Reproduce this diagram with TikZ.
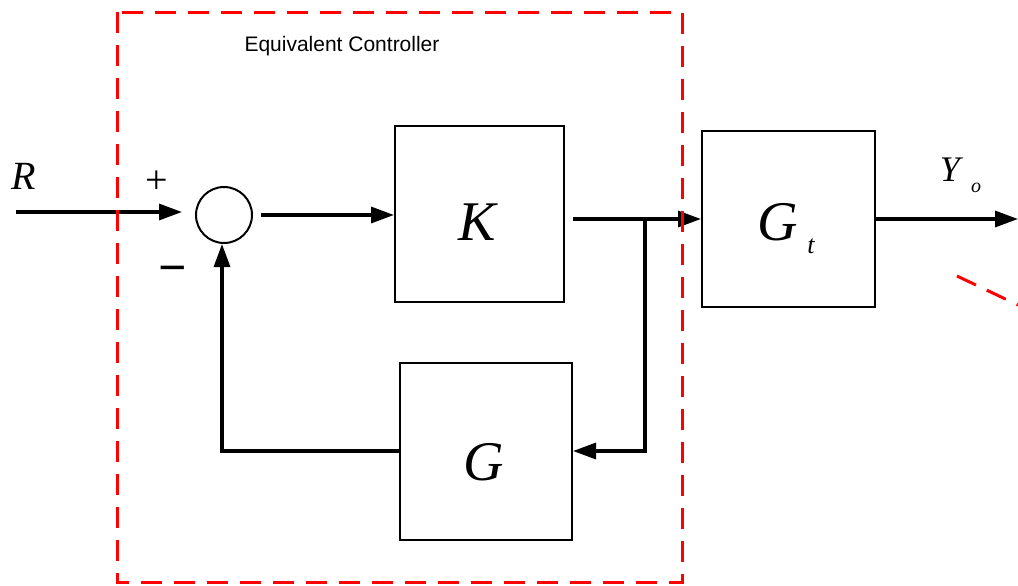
\documentclass[tikz,border=0pt]{standalone}
\usepackage{fontspec}
\setmainfont{Liberation Serif}
\newfontfamily\arialf{Liberation Sans}
\usetikzlibrary{arrows.meta}
\begin{document}
\begin{tikzpicture}[x=0.5pt,y=-0.5pt,
  blk/.style={draw,line width=1pt,inner sep=0pt},
  sig/.style={line width=1.6pt,-{Triangle[length=11.5pt,width=8pt]}},
  reddash/.style={draw=red,line width=1.5pt,dash pattern=on 10.5pt off 6pt},
  lbl/.style={inner sep=0pt,font=\itshape}]
\useasboundingbox (0,0) rectangle (1018,585);
% blocks
\node[blk,minimum width=84.5pt,minimum height=88pt] (K) at (479.5,214) {};
\node[blk,minimum width=86.5pt,minimum height=88pt] (Gt) at (788.5,219) {};
\node[blk,minimum width=86pt,minimum height=88.5pt] (G) at (486,451.5) {};
\node[draw,circle,line width=1pt,minimum size=28pt,inner sep=0pt] (sum) at (224,215) {};
% labels
\node[lbl,font=\itshape\fontsize{28}{28}\selectfont] (Kl) at (477,222) {K};
\node[lbl,font=\itshape\fontsize{28}{28}\selectfont] (Gtl) at (778,222) {G};
\node[lbl,font=\itshape\fontsize{13}{13}\selectfont] (Gts) at (811,246) {t};
\node[lbl,font=\itshape\fontsize{28}{28}\selectfont] (Gl) at (484,462) {G};
\node[lbl,font=\itshape\fontsize{20}{20}\selectfont] (Rl) at (24,176) {R};
\node[lbl,font=\itshape\fontsize{18}{18}\selectfont] (Yl) at (950,170) {Y};
\node[lbl,font=\itshape\fontsize{10}{10}\selectfont] (Ys) at (976,188) {o};
\node[inner sep=0pt,font=\fontsize{20}{20}\selectfont] (plus) at (157,182) {+};
\node[inner sep=0pt,font=\bfseries\fontsize{25}{25}\selectfont] (minus) at (173,275) {−};
\node[inner sep=0pt,font=\arialf\fontsize{10.5}{10.5}\selectfont] (eq) at (342,46) {Equivalent Controller};
% connectors
\coordinate (rin) at (16,212);
\coordinate (j) at (645,219);
\coordinate (jb) at (645,451);
\coordinate (fb) at (222,451);
\coordinate (yout) at (1018,219);
\draw[sig,shorten >=6.5pt] (rin) -- (rin -| sum.west);
\draw[sig,shorten <=4pt] (sum.east) -- (sum.east -| K.west);
\draw[sig,shorten <=4pt] (K.east |- j) -- (j -| Gt.west);
\draw[sig] (j) -- (jb) -- (jb -| G.east);
\draw[sig] (G.west |- fb) -- (fb) -- (fb |- sum.south);
\draw[sig] (Gt.east |- yout) -- (yout);
% red dashed
\draw[reddash] (117,12) rectangle (682,582);
\coordinate (d1) at (957,276);
\coordinate (d2) at (1018,305);
\draw[reddash] (d1) -- (d2);
\end{tikzpicture}
\end{document}
